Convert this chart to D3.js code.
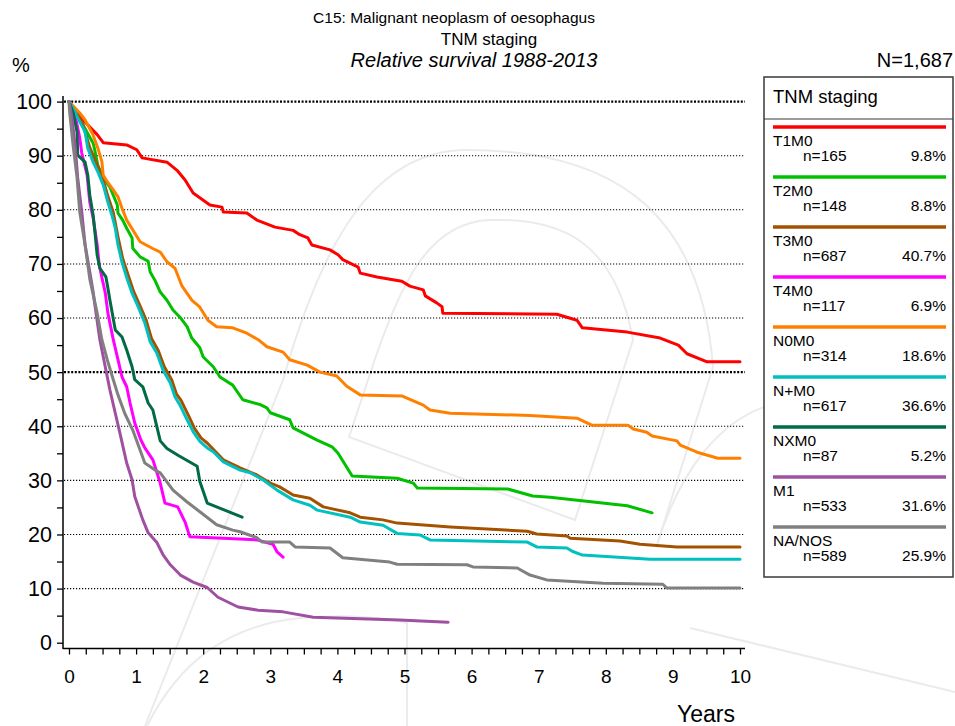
<!DOCTYPE html>
<html><head><meta charset="utf-8">
<script src="https://cdn.jsdelivr.net/npm/d3@7"></script>
<style>body{margin:0;background:#fff}svg{display:block;font-family:"Liberation Sans",Arial,sans-serif}</style>
</head><body>
<svg id="c" width="955" height="726"></svg>
<script>
// ---- data ----
const seriesNames = ["T1M0","T2M0","T3M0","T4M0","N0M0","N+M0","NXM0","M1","NA/NOS"];
const seriesN = [165,148,687,117,314,617,87,533,589];
const seriesPct = ["9.8%","8.8%","40.7%","6.9%","18.6%","36.6%","5.2%","31.6%","25.9%"];
const seriesColors = ["#ff0000","#00c000","#a55200","#ff00ff","#ff8000","#00c0c0","#006b45","#a050a0","#808080"];
const xTicks = [0,1,2,3,4,5,6,7,8,9,10];
const yTicks = [0,10,20,30,40,50,60,70,80,90,100];

const t1m0 = [[0,100],[0.21,96.6],[0.42,93.9],[0.51,92.4],[0.86,92.0],[1.01,91.1],[1.09,89.6],[1.46,88.8],[1.61,87.3],[1.73,85.5],[1.85,83.1],[2.10,80.9],[2.28,80.5],[2.30,79.6],[2.65,79.4],[2.80,78.1],[3.07,76.8],[3.34,76.2],[3.44,75.4],[3.56,74.8],[3.62,73.5],[3.89,72.6],[4.01,71.7],[4.08,70.8],[4.31,69.4],[4.34,68.3],[4.59,67.6],[4.96,66.8],[5.08,65.9],[5.28,65.2],[5.31,64.1],[5.48,62.8],[5.56,62.1],[5.57,60.9],[7.27,60.7],[7.57,59.6],[7.65,58.2],[8.32,57.4],[8.81,56.3],[9.08,55.0],[9.21,53.4],[9.51,51.9],[10,51.9]];
const t2m0 = [[0,100],[0.09,98],[0.21,95.7],[0.31,93.4],[0.36,92.3],[0.39,90.7],[0.43,88.2],[0.51,85.9],[0.61,84.2],[0.66,82.7],[0.72,80.9],[0.73,79.4],[0.80,78.1],[0.86,76.6],[0.94,74.8],[0.95,72.9],[1.06,71.3],[1.18,70.5],[1.21,68.5],[1.28,67.0],[1.36,64.8],[1.46,63.3],[1.55,61.5],[1.65,60.2],[1.76,58.4],[1.83,56.3],[1.95,54.5],[2.0,52.8],[2.15,51.0],[2.25,49.1],[2.44,47.6],[2.59,44.9],[2.85,44.0],[2.95,43.4],[3.0,42.5],[3.29,41.2],[3.34,39.7],[3.69,37.5],[3.92,36.2],[4.01,35.0],[4.07,33.8],[4.22,30.8],[4.89,30.4],[5.13,29.5],[5.19,28.6],[6.54,28.4],[6.91,27.1],[7.17,26.9],[8.32,25.3],[8.69,24.0]];
const t3m0 = [[0,100],[0.1,98],[0.2,96],[0.31,91.5],[0.43,88],[0.51,85.5],[0.58,82.5],[0.66,79.5],[0.73,75],[0.8,71],[0.88,68],[0.96,65],[1.05,62.5],[1.15,59.6],[1.23,56.2],[1.33,54],[1.42,51],[1.53,48.6],[1.6,46],[1.67,44.8],[1.78,42],[1.87,39.6],[1.97,37.8],[2.06,36.9],[2.3,33.8],[2.55,32.3],[2.8,31.0],[3.0,29.5],[3.14,28.8],[3.34,27.3],[3.59,26.7],[3.79,25.1],[4.19,24.0],[4.34,23.2],[4.68,22.7],[4.89,22.1],[5.68,21.4],[6.83,20.6],[6.97,20.1],[7.42,19.7],[7.47,19.3],[8.21,18.8],[8.51,18.2],[9.06,17.7],[10,17.7]];
const t4m0 = [[0,100],[0.09,97.5],[0.16,93.3],[0.19,90.5],[0.27,86.4],[0.31,81.4],[0.36,78.5],[0.42,73.5],[0.45,69.8],[0.49,67.5],[0.54,64.7],[0.58,60.9],[0.66,56.0],[0.73,52.3],[0.79,49.1],[0.86,47.3],[0.91,44.3],[0.98,40.6],[1.07,37.5],[1.13,36.0],[1.25,33.8],[1.36,29.5],[1.43,25.8],[1.62,25.1],[1.73,22.3],[1.80,19.6],[2.8,19.0],[3.04,18.2],[3.1,16.8],[3.19,15.8]];
const n0m0 = [[0,100],[0.16,97.9],[0.24,96.6],[0.36,93.8],[0.43,91.4],[0.49,88.9],[0.51,86.4],[0.57,85.2],[0.66,83.7],[0.73,82.4],[0.79,80.3],[0.86,78.1],[1.06,74.1],[1.24,72.9],[1.36,72.2],[1.46,70.4],[1.58,69.2],[1.68,66.0],[1.83,63.3],[1.95,62.0],[2.07,59.6],[2.2,58.4],[2.44,58.2],[2.65,57.2],[2.82,56.0],[2.95,54.7],[3.19,53.7],[3.29,52.3],[3.55,51.3],[3.74,50.0],[3.99,49.3],[4.14,47.4],[4.34,45.8],[4.96,45.6],[5.28,43.9],[5.38,43.0],[5.68,42.4],[6.87,42.0],[7.57,41.5],[7.79,40.2],[8.33,40.2],[8.41,39.5],[8.61,38.9],[8.69,38.2],[9.06,37.3],[9.11,36.5],[9.36,35.2],[9.67,34.1],[10,34.1]];
const npm0 = [[0,100],[0.07,98.5],[0.13,97],[0.24,94.4],[0.28,91.4],[0.36,88.8],[0.43,87.0],[0.51,84.6],[0.58,81.4],[0.64,79.0],[0.69,76.6],[0.73,73.5],[0.79,70.3],[0.86,67.5],[0.94,64.6],[1.03,62.1],[1.13,59.1],[1.21,55.6],[1.31,53.5],[1.40,50.4],[1.51,48.0],[1.58,45.4],[1.65,44.0],[1.76,41.2],[1.85,39.0],[1.95,37.2],[2.06,36.0],[2.15,35.3],[2.30,33.4],[2.55,31.9],[2.70,31.4],[2.89,30.1],[3.1,28.2],[3.34,26.4],[3.59,25.4],[3.70,24.5],[4.19,23.2],[4.34,22.3],[4.68,21.7],[4.89,20.2],[5.23,19.9],[5.38,19.0],[6.83,18.6],[6.97,17.7],[7.42,17.5],[7.5,16.9],[7.65,16.2],[8.66,15.4],[10,15.4]];
const nxm0 = [[0,100],[0.06,98],[0.12,94.4],[0.13,90.1],[0.24,88.8],[0.28,86.4],[0.31,82.7],[0.36,79.0],[0.39,75.4],[0.42,71.6],[0.46,69.2],[0.55,67.6],[0.58,65.5],[0.61,63.3],[0.69,57.8],[0.79,56.5],[0.86,54.1],[0.94,51.0],[0.98,48.6],[1.1,47.3],[1.18,44.3],[1.25,43.0],[1.36,37.3],[1.46,35.9],[1.63,34.6],[1.91,32.6],[1.95,29.8],[2.06,25.8],[2.58,23.2]];
const m1 = [[0,100],[0.04,97.5],[0.09,92],[0.13,85.9],[0.19,79.6],[0.24,73.5],[0.31,68.5],[0.36,64.8],[0.39,62.1],[0.46,56.0],[0.54,51.0],[0.61,46.7],[0.69,42.4],[0.76,38.7],[0.86,33.2],[0.94,30.1],[0.98,27.0],[1.1,22.7],[1.18,20.3],[1.31,18.5],[1.40,16.3],[1.51,14.4],[1.66,12.5],[1.85,11.2],[2.06,10.2],[2.22,8.4],[2.52,6.6],[2.82,6.0],[3.19,5.7],[3.64,4.7],[4.93,4.2],[5.65,3.8]];
const nanos = [[0,100],[0.01,98],[0.06,92],[0.12,85.9],[0.16,79.6],[0.24,73.5],[0.31,67.2],[0.42,60.9],[0.49,56.0],[0.57,52.3],[0.66,48.6],[0.73,45.8],[0.83,42.4],[0.95,39.3],[1.13,33.2],[1.31,31.7],[1.36,31.4],[1.55,28.2],[1.76,26.0],[1.95,24.2],[2.2,21.8],[2.44,20.8],[2.55,20.5],[2.8,19.4],[2.88,18.6],[3.29,18.6],[3.37,17.7],[3.89,17.5],[4.08,15.7],[4.78,14.9],[4.89,14.5],[5.93,14.4],[6.02,14.0],[6.68,13.8],[6.87,12.5],[7.12,11.6],[7.96,11.0],[8.85,10.8],[8.91,10.1],[10,10.1]];
const seriesData = [t1m0,t2m0,t3m0,t4m0,n0m0,npm0,nxm0,m1,nanos];

// ---- drawing ----
const svg = d3.select("#c");
const x = d3.scaleLinear().domain([0,10]).range([69,740]);
const y = d3.scaleLinear().domain([0,100]).range([642.7,101.6]);

// faint background watermark
const wm = svg.append("g").attr("fill","none").attr("stroke","#ebebeb").attr("stroke-width",2);
wm.append("path").attr("d","M145,726 L283,380 C320,250 370,150 467,150 C600,150 700,200 713,367 L657,545");
wm.append("path").attr("d","M349,437 L368,380 C400,280 430,222 490,220 C560,218 615,240 633,340 L575,520 Z");
wm.append("path").attr("d","M147,726 C180,660 230,625 300,618 C350,614 390,618 407,623 L407,726");
wm.append("path").attr("d","M657,545 C680,470 720,420 770,405");
wm.append("path").attr("d","M690,628 L955,692");

// titles
const tg = svg.append("g").attr("fill","#000");
tg.append("text").attr("x",454).attr("y",23).attr("text-anchor","middle").attr("font-size",15.5).text("C15: Malignant neoplasm of oesophagus");
tg.append("text").attr("x",489).attr("y",45).attr("text-anchor","middle").attr("font-size",17).text("TNM staging");
tg.append("text").attr("x",474).attr("y",67).attr("text-anchor","middle").attr("font-size",20).attr("font-style","italic").text("Relative survival 1988-2013");
tg.append("text").attr("x",12).attr("y",72).attr("font-size",20).text("%");
tg.append("text").attr("x",953).attr("y",67).attr("text-anchor","end").attr("font-size",20).text("N=1,687");

// gridlines
svg.append("g").selectAll("line").data(yTicks.filter(d=>d>0)).join("line")
  .attr("x1",64).attr("x2",745).attr("y1",d=>y(d)).attr("y2",d=>y(d))
  .attr("stroke","#000")
  .attr("stroke-width",d=>(d===50||d===100)?2.2:1.1)
  .attr("stroke-dasharray",d=>(d===50||d===100)?"2,1.6":"1.2,1.8");

// axes
const yAxis = d3.axisLeft(y).tickValues(d3.range(0,101,5)).tickSize(6).tickPadding(5)
  .tickFormat(d=>d%10===0?d:"");
const gy = svg.append("g").attr("transform","translate(63,0)").call(yAxis);
gy.select(".domain").remove();
gy.selectAll("text").attr("font-size",21.5).attr("font-family","Liberation Sans, Arial, sans-serif");
gy.selectAll("line").attr("stroke-width",1.3);
svg.append("line").attr("x1",63).attr("x2",63).attr("y1",96).attr("y2",649).attr("stroke","#000").attr("stroke-width",1.5);

const xAxis = d3.axisBottom(x).tickValues(d3.range(0,10.001,0.25)).tickSize(6).tickPadding(15)
  .tickFormat(d=>xTicks.includes(d)?d:"");
const gx = svg.append("g").attr("transform","translate(0,648.5)").call(xAxis);
gx.select(".domain").remove();
gx.selectAll("text").attr("font-size",19).attr("font-family","Liberation Sans, Arial, sans-serif");
gx.selectAll("line").attr("stroke-width",1.3);
svg.append("line").attr("x1",63).attr("x2",745).attr("y1",648.5).attr("y2",648.5).attr("stroke","#000").attr("stroke-width",1.5);
svg.append("text").attr("x",706).attr("y",722).attr("text-anchor","middle").attr("font-size",23).text("Years");

// curves
const line = d3.line().x(d=>x(d[0])).y(d=>y(d[1]));
svg.append("g").selectAll("path").data(seriesData).join("path")
  .attr("d",line).attr("fill","none")
  .attr("stroke",(d,i)=>seriesColors[i]).attr("stroke-width",3)
  .attr("stroke-linejoin","round").attr("stroke-linecap","round");

// legend
const lg = svg.append("g");
lg.append("rect").attr("x",764).attr("y",77).attr("width",189).attr("height",500)
  .attr("fill","#fff").attr("stroke","#3a3a3a").attr("stroke-width",1.5);
lg.append("text").attr("x",773).attr("y",103).attr("font-size",18.5).text("TNM staging");
lg.append("line").attr("x1",764).attr("x2",953).attr("y1",119).attr("y2",119).attr("stroke","#3a3a3a").attr("stroke-width",1.2);
seriesNames.forEach((nm,i)=>{
  const y0 = 127 + 50*i;
  lg.append("line").attr("x1",773).attr("x2",946).attr("y1",y0).attr("y2",y0)
    .attr("stroke",seriesColors[i]).attr("stroke-width",3.5);
  lg.append("text").attr("x",773).attr("y",y0+19).attr("font-size",15.5).text(nm);
  lg.append("text").attr("x",803).attr("y",y0+34).attr("font-size",15.5).text("n="+seriesN[i]);
  lg.append("text").attr("x",946).attr("y",y0+34).attr("font-size",15.5).attr("text-anchor","end").text(seriesPct[i]);
});
</script>
</body></html>
